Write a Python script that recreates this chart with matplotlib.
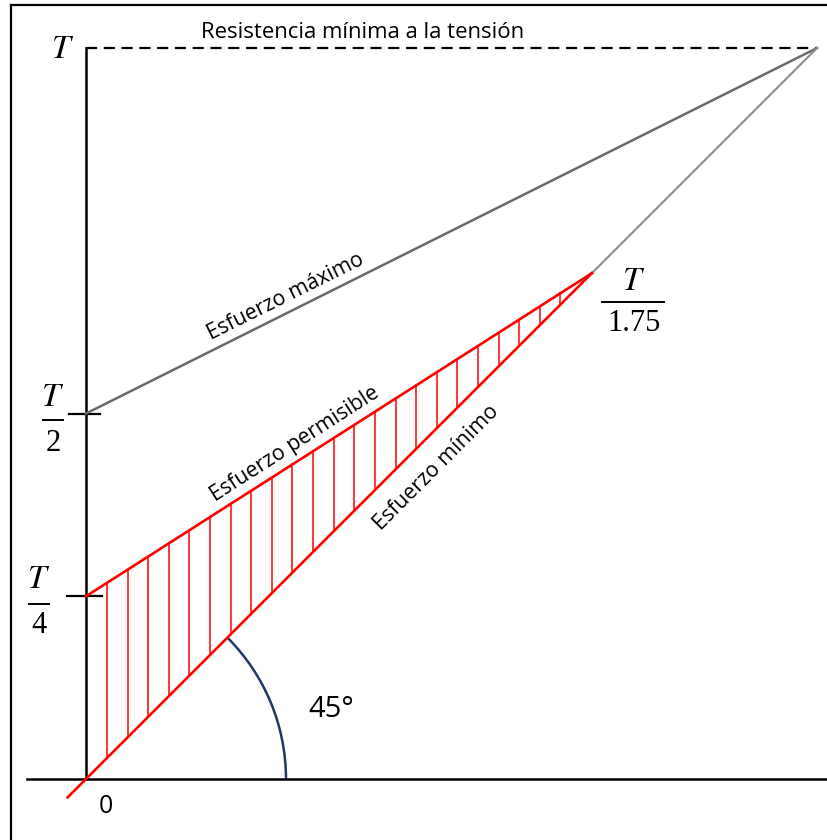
import numpy as np
import matplotlib.pyplot as plt
from matplotlib.patches import Arc

# valores del diagrama, todo en unidades de T
T = 1.0
t_cruce = 0.692          # donde se cruzan permisible y minimo (no a escala en el original)
frac_vals = [T / 4, T / 2]
frac_dens = ['4', '2']
max_x = [0.0, T]
max_y = [T / 2, T]
perm_x = [0.0, t_cruce]
perm_y = [T / 4, t_cruce]
min_x = [-0.025, t_cruce]
min_y = [-0.025, t_cruce]
ext_x = [t_cruce, T]
ext_y = [t_cruce, T]
n_hatch = 23
hatch_ini, hatch_fin = 0.0287, 0.649
arc_r = 0.2736
ang = 45

fig = plt.figure(figsize=(8.28, 8.40), dpi=100)
ax = fig.add_axes([0, 0, 1, 1])
ax.set_xlim(-0.1176, 1.0150)
ax.set_ylim(-0.0834, 1.0657)
ax.axis('off')

txt_font = ['Open Sans', 'DejaVu Sans']
plt.rcParams['mathtext.fontset'] = 'stix'

# marco de la imagen
ax.plot([-0.1026, -0.1026], [-0.1, 1.0588], color='black', lw=1.6, clip_on=False)
ax.plot([-0.1026, 1.1], [1.0588, 1.0588], color='black', lw=1.6, clip_on=False)

# ejes
ax.plot([0, 0], [0, T], color='black', lw=1.8)
ax.plot([-0.0807, 1.02], [0, 0], color='black', lw=1.8)
ax.plot([0, T], [T, T], color='black', lw=1.6, ls=(0, (5, 3)))

# marcas T/2 y T/4
ax.plot([-0.023, 0.019], [T / 2, T / 2], color='black', lw=1.6)
ax.plot([-0.026, 0.022], [T / 4, T / 4], color='black', lw=1.6)

# lineas grises
ax.plot(max_x, max_y, color='#6b6b6b', lw=1.8)
ax.plot(ext_x, ext_y, color='#8f8f8f', lw=1.5)

# zona permisible (rojo)
xs = np.linspace(hatch_ini, hatch_fin, n_hatch)
m_perm = (perm_y[1] - perm_y[0]) / (perm_x[1] - perm_x[0])
for x in xs:
    ax.plot([x, x], [x, perm_y[0] + m_perm * x], color='#ff0000', lw=1.1)
ax.plot(perm_x, perm_y, color='#ff0000', lw=1.9)
ax.plot(min_x, min_y, color='#ff0000', lw=1.9)

# arco de 45 grados
ax.add_patch(Arc((0, 0), 2 * arc_r, 2 * arc_r, theta1=0, theta2=ang,
                 color='#1f3864', lw=1.8))

px = 731.0
ax.text((331 - 86) / px, (779 - 709) / px, '45°', fontsize=21, family=txt_font,
        ha='center', va='center')
ax.text((106 - 86) / px, (779 - 806) / px, '0', fontsize=18, family=txt_font,
        ha='center', va='center')

# etiquetas T
tsize = 24
ax.text(-0.0315, T, r'$T$', fontsize=tsize, ha='center', va='center')


def fraccion(xc, y_num, y_bar, y_den, x0, x1, den):
    ax.text(xc, y_num, r'$T$', fontsize=tsize, ha='center', va='center')
    ax.plot([x0, x1], [y_bar, y_bar], color='black', lw=1.4, clip_on=False)
    ax.text(xc, y_den, den, fontsize=tsize - 2, family='Liberation Serif',
            ha='center', va='center')


fraccion((53 - 86) / px, (779 - 396) / px, (779 - 420) / px, (779 - 443) / px,
         (43 - 86) / px, (63 - 86) / px, frac_dens[1])
fraccion((39 - 86) / px, (779 - 578) / px, (779 - 604) / px, (779 - 625) / px,
         (29 - 86) / px, (49 - 86) / px, frac_dens[0])
fraccion((634 - 86) / px, (779 - 280) / px, (779 - 302) / px, (779 - 323) / px,
         (602 - 86) / px, (664 - 86) / px, '1.75')

# textos
lsize = 15.3
ax.text((363 - 86) / px, (779 - 38) / px, 'Resistencia mínima a la tensión',
        fontsize=15.9, family=txt_font, ha='center', va='baseline')
ax.text((286 - 86) / px, (779 - 297) / px, 'Esfuerzo máximo', fontsize=lsize,
        family=txt_font, ha='center', va='center', rotation=26.4, rotation_mode='anchor')
ax.text((295 - 86) / px, (779 - 444) / px, 'Esfuerzo permisible', fontsize=lsize,
        family=txt_font, ha='center', va='center', rotation=32.7, rotation_mode='anchor')
ax.text((436 - 86) / px, (779 - 468) / px, 'Esfuerzo mínimo', fontsize=lsize,
        family=txt_font, ha='center', va='center', rotation=45, rotation_mode='anchor')

fig.savefig('out.png', dpi=100)
